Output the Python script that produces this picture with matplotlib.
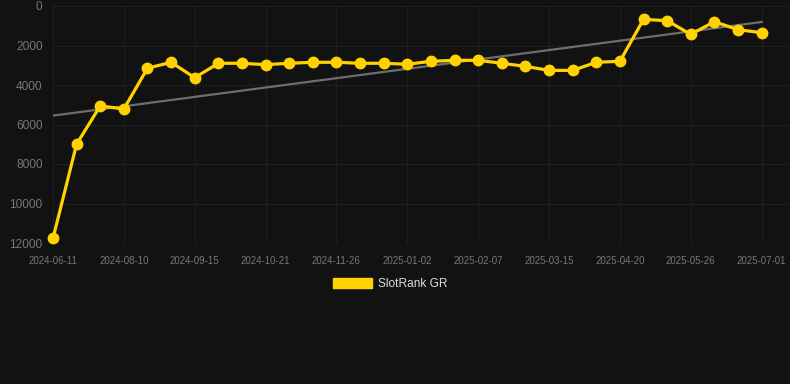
import numpy as np
import matplotlib
matplotlib.use('Agg')
import matplotlib.pyplot as plt
from matplotlib.patches import Patch

plt.rcParams['font.family'] = ['Liberation Sans', 'DejaVu Sans']

# SlotRank GR values (rank, lower is better), one per sample
rank = [11760, 6990, 5060, 5215, 3150, 2850, 3630, 2900, 2900, 2970,
        2900, 2850, 2850, 2900, 2900, 2950, 2800, 2750, 2750, 2900,
        3055, 3260, 3260, 2850, 2800, 675, 745, 1435, 795, 1200, 1350]

# labels shown every third sample
tick_labels = ['2024-06-11', '2024-08-10', '2024-09-15', '2024-10-21',
               '2024-11-26', '2025-01-02', '2025-02-07', '2025-03-15',
               '2025-04-20', '2025-05-26', '2025-07-01']

# trend line start / end values
trend = [5550, 810]

bg = '#121212'
gold = '#FFD200'

W, H = 790, 384
fig = plt.figure(figsize=(W / 100, H / 100), dpi=100, facecolor=bg)
ax = fig.add_axes([53 / W, (H - 243) / H, (790 - 53) / W, 237 / H])
ax.set_facecolor(bg)

x = np.arange(len(rank))
ax.plot([x[0], x[-1]], trend, color='#6e6e6e', lw=1.6, zorder=2)
ax.plot(x, rank, color=gold, lw=2.3, marker='o', markersize=7.5,
        clip_on=False, zorder=3)

ax.set_ylim(12000, 0)
ax.set_xlim(0, 31.2)
ax.set_yticks(range(0, 12001, 2000))
ax.set_xticks(x[::3])
ax.set_xticklabels(tick_labels)

ax.grid(True, color='#1f1f1f', lw=0.8)
for s in ax.spines.values():
    s.set_visible(False)
ax.axhline(12000, color='#2a2a2a', lw=0.8, zorder=1)
ax.tick_params(axis='y', length=0, pad=7.5, labelsize=8.6, labelcolor='#777777')
ax.tick_params(axis='x', length=0, pad=9, labelsize=7.0, labelcolor='#777777')

handle = Patch(facecolor=gold, edgecolor=gold)
fig.legend([handle], ['SlotRank GR'], loc='center', bbox_to_anchor=(390 / W, 1 - 284 / H),
           frameon=False, fontsize=8.6, labelcolor='#dddddd',
           handlelength=3.3, handleheight=1.0, handletextpad=0.5)

fig.savefig('out.png', dpi=100, facecolor=bg)
